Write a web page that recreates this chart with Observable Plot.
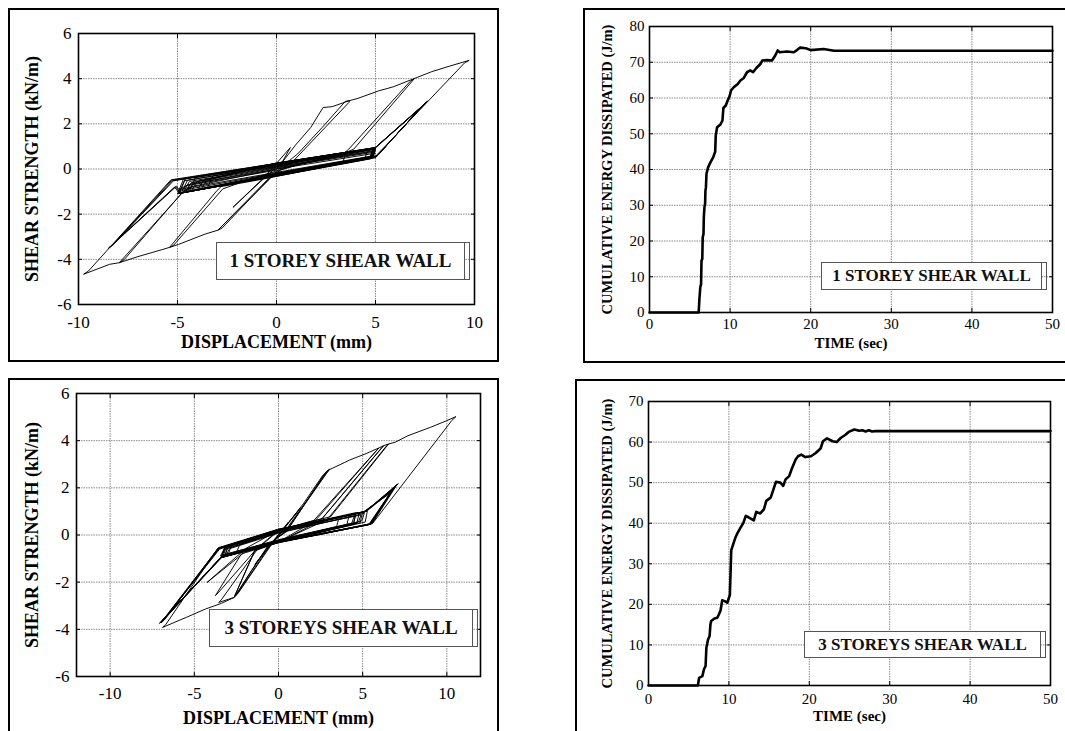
<!DOCTYPE html>
<html>
<head>
<meta charset="utf-8">
<script src="https://cdn.jsdelivr.net/npm/d3@7"></script>
<script src="https://cdn.jsdelivr.net/npm/@observablehq/plot@0.6"></script>
<style>
  html, body { margin: 0; padding: 0; background: #fff; }
  body { width: 1065px; height: 731px; overflow: hidden; position: relative; font-family: "Liberation Serif", "Times New Roman", serif; }
  .panel { position: absolute; }
  .panel svg { display: block; background: transparent; }
  .frame { position: absolute; border: 2px solid #000; box-sizing: border-box; pointer-events: none; }
  .note { position: absolute; box-sizing: border-box; border: 1px solid #555; background: #fff; font-weight: bold;
          display: flex; align-items: center; justify-content: center; white-space: nowrap; color: #111; }
  .note::after { content: ""; position: absolute; right: -6px; top: -1px; bottom: -1px; width: 4px;
                 border: 1px solid #555; border-left: none; }
</style>
</head>
<body>
<div id="p1" class="panel" style="left:0px;top:0px"></div>
<div id="p2" class="panel" style="left:540px;top:0px"></div>
<div id="p3" class="panel" style="left:0px;top:370px"></div>
<div id="p4" class="panel" style="left:540px;top:370px"></div>

<div class="frame" style="left:8px;top:8px;width:491px;height:354px"></div>
<div class="frame" style="left:583px;top:8px;width:500px;height:355px"></div>
<div class="frame" style="left:8px;top:378px;width:491px;height:400px"></div>
<div class="frame" style="left:575px;top:379px;width:520px;height:400px"></div>

<div id="n1" class="note" style="left:216px;top:242px;width:249px;height:38px;font-size:19px"></div>
<div id="n2" class="note" style="left:821px;top:262px;width:221px;height:28px;font-size:17px"></div>
<div id="n3" class="note" style="left:209px;top:609px;width:264px;height:38px;font-size:19px"></div>
<div id="n4" class="note" style="left:804px;top:631px;width:237px;height:27px;font-size:17px"></div>

<script>
// ---------------- DATA ----------------
const noteLabels = ["1 STOREY SHEAR WALL", "1 STOREY SHEAR WALL", "3 STOREYS SHEAR WALL", "3 STOREYS SHEAR WALL"];
const hystXLabel = "DISPLACEMENT (mm)";
const hystYLabel = "SHEAR STRENGTH (kN/m)";
const energyXLabel = "TIME (sec)";
const energyYLabel = "CUMULATIVE ENERGY DISSIPATED (J/m)";

const hyst1XTicks = [-10, -5, 0, 5, 10];
const hyst3XTicks = [-10, -5, 0, 5, 10];
const hystYTicks = [-6, -4, -2, 0, 2, 4, 6];
const energyXTicks = [0, 10, 20, 30, 40, 50];
const energy1YTicks = [0, 10, 20, 30, 40, 50, 60, 70, 80];
const energy3YTicks = [0, 10, 20, 30, 40, 50, 60, 70];

// 1 storey wall: displacement (mm), shear (kN/m) — history split in stages
const wall1Initial = [
  [0,0],[0.35,0.4],[0.7,0.95],[-0.6,-0.35],[-2.2,-1.7],[-1.9,-1.45],[0,0.1],
  [0.22,0.22],[0.97,1.07],[1.73,1.84],[2.35,2.72],[2.81,2.76],[3.70,3.03],
  [3.48,3.00],[2.31,1.84],[1.06,0.66],[0.80,0.48],[0.2,0.05],
  [-0.34,-0.44],[-1.5,-1.45],[-2.96,-2.71],
  [-2.75,-2.62],[-0.34,-0.40],[0.9,0.40],[3.65,2.94],[3.70,3.03]
];
const wall1Cycle2 = [
  [4.12,3.13],[5.16,3.46],[5.9,3.64],[6.97,4.01],
  [6.75,3.88],[3.65,0.88],[3.3,0.62],[1.5,0.3],[0.2,-0.05],[-0.4,-0.42],
  [-1.6,-1.5],[-2.96,-2.71],[-3.6,-2.88],[-4.95,-3.34],[-5.4,-3.47],
  [-5.2,-3.38],[-2.71,-0.88],[-1.5,-0.5],[0.5,0.05],[3.55,0.75],[3.9,0.88]
];
const wall1Cycle3 = [
  [6.97,4.01],[7.84,4.31],[8.76,4.56],[9.73,4.81],
  [9.5,4.70],[4.99,0.55],[2.0,0.02],[-1.0,-0.5],[-2.8,-0.78],[-3.0,-0.95],
  [-5.4,-3.47],[-5.74,-3.56],[-7.0,-3.88],[-7.94,-4.15],
  [-7.7,-4.02],[-4.75,-1.03],[-4.3,-0.78],[0,0.0],[4.9,0.88]
];
const wall1PosFan = [
  [7.64,3.01],[7.50,2.91],[5.02,0.52],[0,-0.28],[-4.6,-1.02],[-4.3,-0.62],[0,0.22],[4.95,0.92],
  [7.60,2.97],[7.46,2.87],[5.05,0.55],[0,-0.26],[-4.3,-0.97],[-4.0,-0.55],[0,0.24],[5.0,0.94],
  [7.55,2.93],[7.40,2.82],[5.08,0.58],[0,-0.24],[-4.0,-0.92],[-3.7,-0.52],[0,0.26],[5.02,0.95],
  [7.50,2.88],[7.36,2.78],[5.1,0.6],[0,-0.22],[-3.8,-0.88],[-3.5,-0.5],[0,0.27],[4.97,0.93],
  [7.58,2.95],[7.44,2.85],[5.0,0.5],[0,-0.3]
];
const wall1Peak = [
  [-4.75,-1.05],[-7.94,-4.15],[-8.43,-4.22],[-9.74,-4.66],
  [-9.5,-4.52],[-5.33,-0.48],[0,0.25],[5.0,0.95]
];
const wall1NegFan = [
  [4.8,0.52],[0,-0.3],[-4.9,-1.08],[-5.15,-0.8],[-8.5,-3.52],[-8.32,-3.4],[-5.3,-0.5],[0,0.25],[5.0,0.95],
  [4.85,0.55],[0,-0.28],[-4.85,-1.06],[-5.1,-0.78],[-8.45,-3.48],[-8.28,-3.36],[-5.25,-0.52],[0,0.24],[4.95,0.92],
  [4.8,0.5],[0,-0.3],[-4.8,-1.05],[-5.05,-0.76],[-8.4,-3.45],[-8.22,-3.32],[-5.2,-0.52],[0,0.22],[4.9,0.9]
];
const wall1Pinched = [
  [4.75,0.48],[0,-0.28],[-4.9,-1.08],[-4.6,-0.42],[0,0.2],[5.0,0.94],
  [4.85,0.52],[0,-0.26],[-5.0,-1.1],[-4.7,-0.45],[0,0.22],[4.6,0.85],
  [4.45,0.42],[0,-0.25],[-4.4,-1.0],[-4.1,-0.38],[0,0.18],[3.5,0.7],
  [3.35,0.3],[0,-0.2],[-3.5,-0.85],[-3.2,-0.3],[0,0.12]
];
const wall1Band = [
  [4.9,0.92],[4.7,0.5],[0,-0.27],[-4.8,-1.06],[-4.5,-0.5],[0,0.17],
  [5.0,0.9],[4.8,0.48],[0,-0.3],[-4.95,-1.09],[-4.65,-0.52],[0,0.15],
  [4.95,0.86],[4.75,0.45],[0,-0.32],[-4.7,-1.04],[-4.4,-0.55],[0,0.1],
  [5.0,0.82],[4.8,0.5],[0,-0.25],[-4.6,-1.0],[-4.3,-0.6],[0,0.08],
  [4.9,0.78],[4.7,0.52],[0,-0.2],[-4.5,-0.98],[-4.2,-0.65],[0,0.05],
  [4.95,0.75],[4.75,0.55],[0,-0.18],[-4.8,-0.95],[-4.5,-0.7],[0,0.0],
  [5.0,0.7],[4.85,0.58],[0,-0.15],[-4.9,-0.9],[-4.6,-0.75],[0,-0.05]
];

// 3 storeys wall: displacement (mm), shear (kN/m)
const wall3Initial = [
  [0,0],[0.6,0.55],[-0.7,-0.6],[0.1,0.1],[1.3,1.15],[1.1,0.95],[-1.4,-1.25],[-1.2,-1.05],[0,-0.05],
  [0.3,0.25],[1.5,1.35],[2.6,2.5],[2.88,2.72],[3.06,2.8],[2.9,2.66],[0.4,0.12],[-0.5,-0.35],
  [-1.6,-1.5],[-2.64,-2.65],[-2.45,-2.5],[-0.3,-0.22],[0.5,0.15],
  [0.7,0.38],[2.7,2.55],[3.0,2.76],[2.82,2.6],[0.3,0.08],[-0.6,-0.42],[-2.58,-2.6],[-2.38,-2.45],[-0.2,-0.18],[0.6,0.3]
];
const wall3Mid = [
  [2.88,2.72],[3.94,3.08],[4.23,3.18],[5.2,3.45],[5.96,3.69],
  [5.8,3.56],[2.2,0.62],[0,-0.3],[-1.5,-0.62],[-2.0,-0.72],[-4.24,-2.01],[-4.1,-1.92],[-1.9,-0.55],[0,0.2],[2.1,0.62],
  [5.96,3.69],[6.25,3.79],[6.08,3.66],[2.5,0.62],[0,-0.32],[-2.2,-0.8],[-3.75,-2.57],[-3.58,-2.45],[-1.42,-0.68],[0,0.18],[2.6,0.7],
  [6.25,3.79],[6.54,3.86],[6.36,3.73],[2.9,0.66],[0,-0.3],[-1.4,-0.64],[-2.64,-2.65],[-2.96,-2.72],[-3.55,-2.86],[-3.4,-2.75],[-1.1,-0.45],[0,0.2],[3.1,0.78]
];
const wall3Peak = [
  [6.54,3.86],[6.92,3.93],[7.69,4.21],[9.04,4.57],[10.0,4.85],[10.54,5.02],
  [10.3,4.86],[5.58,0.48],[2.5,0.02],[0,-0.3],[-1.42,-0.68],[-2.64,-2.65],[-3.4,-2.9],[-4.34,-3.14],[-5.47,-3.49],[-6.89,-3.92],
  [-6.7,-3.8],[-3.58,-0.54],[0,0.25],[5.2,1.0]
];
const wall3Fans = [
  [7.12,2.18],[6.97,2.06],[5.58,0.5],[0,-0.32],[-3.4,-0.95],[-7.08,-3.75],[-6.88,-3.62],[-3.58,-0.56],[0,0.22],[5.2,1.0],
  [7.0,2.1],[6.86,1.98],[5.5,0.48],[0,-0.3],[-3.42,-0.94],[-7.0,-3.7],[-6.8,-3.57],[-3.55,-0.58],[0,0.24],[5.1,0.98],
  [6.9,2.0],[6.76,1.9],[5.45,0.46],[0,-0.33],[-3.38,-0.96],[-6.95,-3.68],[-6.76,-3.55],[-3.52,-0.55],[0,0.21],[5.25,1.02],
  [6.8,1.9],[6.66,1.8],[5.4,0.44],[0,-0.31],[-3.45,-0.97],[-6.9,-3.62],[-6.72,-3.5],[-3.5,-0.6],[0,0.23],[5.15,0.99],
  [7.05,2.15],[6.9,2.03],[5.52,0.47],[0,-0.29],[-3.4,-0.93],[-7.02,-3.72],[-6.84,-3.6],[-3.56,-0.57],[0,0.2],[5.0,0.96],
  [6.7,1.8],[6.56,1.7],[5.35,0.43],[0,-0.3],[-3.36,-0.92],[-6.8,-3.55],[-6.62,-3.43],[-3.5,-0.55],[0,0.22],[5.2,1.0],
  [6.95,2.05],[6.8,1.94],[5.48,0.47],[0,-0.31],[-3.44,-0.96],[-6.98,-3.73],[-6.78,-3.6],[-3.6,-0.57],[0,0.23],[5.1,0.97],
  [6.85,1.95],[6.7,1.85],[5.42,0.45],[0,-0.3],[-3.38,-0.94],[-6.86,-3.6],[-6.68,-3.48],[-3.54,-0.56],[0,0.21],[5.2,1.0]
];
const wall3Pinched = [
  [5.3,1.1],[5.15,0.55],[0,-0.3],[-3.4,-0.95],[-3.2,-0.52],[0,0.22],[4.6,0.95],
  [4.45,0.45],[0,-0.28],[-3.2,-0.9],[-3.0,-0.5],[0,0.2],[4.2,0.85],
  [4.05,0.4],[0,-0.26],[-3.0,-0.85],[-2.8,-0.45],[0,0.18],[3.6,0.75],
  [3.45,0.35],[0,-0.22],[-2.5,-0.75],[-2.3,-0.4],[0,0.12]
];
const wall3Band = [
  [4.8,0.95],[4.65,0.5],[0,-0.28],[-3.3,-0.92],[-3.1,-0.5],[0,0.2],
  [5.0,0.98],[4.85,0.52],[0,-0.3],[-3.4,-0.95],[-3.2,-0.55],[0,0.18],
  [4.6,0.88],[4.45,0.48],[0,-0.26],[-3.2,-0.88],[-3.0,-0.52],[0,0.15],
  [4.9,0.85],[4.75,0.55],[0,-0.22],[-3.35,-0.85],[-3.15,-0.6],[0,0.1],
  [4.5,0.8],[4.35,0.5],[0,-0.2],[-3.1,-0.82],[-2.9,-0.58],[0,0.08],
  [5.1,0.92],[4.95,0.6],[0,-0.25],[-3.45,-0.9],[-3.25,-0.62],[0,0.12]
];

// cumulative energy dissipated: time (s), energy (J/m)
const energy1 = [
  [0,0],[6.1,0],[6.2,4],[6.3,7],[6.4,8],[6.45,14.5],[6.55,15],[6.6,21],[6.7,22],[6.74,26.7],[6.82,29.5],
  [6.9,30.5],[6.94,34],[7.0,35],[7.07,38.8],[7.27,40.6],[7.56,42],[7.9,43.4],[8.06,44.4],[8.15,45],
  [8.22,49.5],[8.39,51.8],[8.8,52.6],[9.05,53.7],[9.17,57.2],[9.46,57.9],[9.7,59.3],[9.92,60.4],
  [10.12,62.1],[10.45,63],[10.95,63.9],[11.28,64.9],[11.7,65.6],[12.1,67.2],[12.5,67.7],[12.85,67.2],
  [13.26,68.4],[13.76,69.5],[14.0,70.5],[14.6,70.6],[15.2,70.5],[15.6,71.9],[15.9,73.3],[16.16,72.8],
  [17.07,73.0],[17.9,72.8],[18.3,73.4],[18.7,74.1],[19.4,73.9],[20.0,73.4],[21.6,73.7],[22.9,73.2],[50,73.2]
];
const energy3 = [
  [0,0],[6.14,0],[6.3,1.9],[6.7,2.3],[6.9,4],[7.1,4.8],[7.2,9.3],[7.4,11.3],[7.6,12.2],[7.7,15.0],
  [7.8,15.9],[8.2,16.5],[8.55,16.7],[8.75,17.5],[8.96,18.5],[9.17,21.0],[9.46,20.8],[9.8,20.4],
  [10.12,22.3],[10.29,33.3],[10.6,35.2],[10.8,36.4],[11.1,37.7],[11.45,38.9],[11.8,40.1],[12.1,41.8],
  [12.5,41.4],[13.1,40.7],[13.4,42.8],[13.9,42.4],[14.35,43.4],[14.65,45.5],[15.2,46.3],[15.5,48.1],
  [15.85,50.2],[16.4,50.0],[16.76,49.2],[17.05,50.8],[17.5,51.6],[17.8,53.3],[18.3,55.7],[18.6,56.5],
  [19.0,56.9],[19.5,56.3],[20.2,56.5],[20.8,57.3],[21.4,58.4],[21.7,60.2],[22.2,60.9],[22.9,60.2],
  [23.4,60.0],[23.9,61.0],[24.5,61.8],[24.9,62.5],[25.6,63.1],[26.2,62.8],[26.6,62.9],[27.0,62.6],
  [27.4,62.9],[27.8,62.6],[28.2,62.7],[50,62.7]
];

// ---------------- CHARTS ----------------
const FONT = "'Liberation Serif', 'Times New Roman', serif";
const gridStyle = {stroke: "#8a8a8a", strokeOpacity: 1, strokeWidth: 1, strokeDasharray: "1.5,1"};
const fmt = d => String(d);

function innerTicks(xTicks, yTicks) {
  return [
    Plot.axisX({ticks: xTicks, anchor: "bottom", tickSize: 4, dy: -4, tickFormat: () => "", label: null}),
    Plot.axisX({ticks: xTicks, anchor: "top", tickSize: 4, dy: 4, tickFormat: () => "", label: null}),
    Plot.axisY({ticks: yTicks, anchor: "left", tickSize: 4, dx: 4, tickFormat: () => "", label: null}),
    Plot.axisY({ticks: yTicks, anchor: "right", tickSize: 4, dx: -4, tickFormat: () => "", label: null})
  ];
}

function hysteresisChart(path, cfg) {
  return Plot.plot({
    width: cfg.width, height: cfg.height,
    marginLeft: cfg.ml, marginRight: cfg.mr, marginTop: cfg.mt, marginBottom: cfg.mb,
    style: {fontFamily: FONT, fontSize: "17px", background: "transparent", color: "#000"},
    x: {domain: cfg.xDomain}, y: {domain: [-6, 6]},
    marks: [
      Plot.gridX(cfg.xTicks, gridStyle),
      Plot.gridY(hystYTicks.slice(1, -1), gridStyle),
      Plot.line(path, {x: d => d[0], y: d => d[1], stroke: "#000", strokeWidth: 0.95, strokeLinejoin: "round"}),
      Plot.frame({stroke: "#000", strokeWidth: 1.6}),
      ...innerTicks(cfg.xTicks, hystYTicks),
      Plot.axisX({ticks: cfg.xTicks, anchor: "bottom", tickSize: 0, tickPadding: cfg.xPad, tickFormat: fmt, label: null, fontSize: 17}),
      Plot.axisY({ticks: hystYTicks, anchor: "left", tickSize: 0, tickPadding: 7, tickFormat: fmt, label: null, fontSize: 17}),
      Plot.text([hystXLabel], {text: d => d, frameAnchor: "bottom", textAnchor: "middle", lineAnchor: "middle", dy: cfg.xLabelDy, fontWeight: "bold", fontSize: 18}),
      Plot.text([hystYLabel], {text: d => d, frameAnchor: "left", textAnchor: "middle", lineAnchor: "middle", rotate: -90, dx: cfg.yLabelDx, fontWeight: "bold", fontSize: 18})
    ]
  });
}

function energyChart(series, yTicks, cfg) {
  return Plot.plot({
    width: cfg.width, height: cfg.height,
    marginLeft: cfg.ml, marginRight: cfg.mr, marginTop: cfg.mt, marginBottom: cfg.mb,
    style: {fontFamily: FONT, fontSize: "15px", background: "transparent", color: "#000"},
    x: {domain: [0, 50]}, y: {domain: [yTicks[0], yTicks[yTicks.length - 1]]},
    marks: [
      Plot.gridX(energyXTicks.slice(1, -1), gridStyle),
      Plot.gridY(yTicks.slice(1, -1), gridStyle),
      Plot.line(series, {x: d => d[0], y: d => d[1], stroke: "#000", strokeWidth: 2.6, strokeLinejoin: "round"}),
      Plot.frame({stroke: "#000", strokeWidth: 1.6}),
      ...innerTicks(energyXTicks, yTicks),
      Plot.axisX({ticks: energyXTicks, anchor: "bottom", tickSize: 0, tickPadding: cfg.xPad, tickFormat: fmt, label: null, fontSize: 15}),
      Plot.axisY({ticks: yTicks, anchor: "left", tickSize: 0, tickPadding: 5, tickFormat: fmt, label: null, fontSize: 15}),
      Plot.text([energyXLabel], {text: d => d, frameAnchor: "bottom", textAnchor: "middle", lineAnchor: "middle", dy: cfg.xLabelDy, fontWeight: "bold", fontSize: 15}),
      Plot.text([energyYLabel], {text: d => d, frameAnchor: "left", textAnchor: "middle", lineAnchor: "middle", rotate: -90, dx: cfg.yLabelDx, fontWeight: "bold", fontSize: 14.5})
    ]
  });
}

const path1 = [...wall1Initial, ...wall1Cycle2, ...wall1Cycle3, ...wall1PosFan, ...wall1Peak, ...wall1NegFan, ...wall1Pinched, ...wall1Band];
const path3 = [...wall3Initial, ...wall3Mid, ...wall3Peak, ...wall3Fans, ...wall3Pinched, ...wall3Band];

document.getElementById("p1").append(hysteresisChart(path1, {
  width: 540, height: 370, ml: 78, mr: 66, mt: 33, mb: 66,
  xDomain: [-10, 10], xTicks: hyst1XTicks, xPad: 11, xLabelDy: 38, yLabelDx: -46
}));
document.getElementById("p2").append(energyChart(energy1, energy1YTicks, {
  width: 525, height: 370, ml: 109, mr: 13, mt: 26, mb: 58, xPad: 6, xLabelDy: 31, yLabelDx: -42
}));
document.getElementById("p3").append(hysteresisChart(path3, {
  width: 540, height: 361, ml: 76, mr: 60, mt: 23, mb: 55,
  xDomain: [-12, 12], xTicks: hyst3XTicks, xPad: 10, xLabelDy: 42, yLabelDx: -44
}));
document.getElementById("p4").append(energyChart(energy3, energy3YTicks, {
  width: 525, height: 361, ml: 108, mr: 15, mt: 31, mb: 46, xPad: 8, xLabelDy: 31, yLabelDx: -41
}));

["n1", "n2", "n3", "n4"].forEach((id, i) => { document.getElementById(id).textContent = noteLabels[i]; });
</script>
</body>
</html>
